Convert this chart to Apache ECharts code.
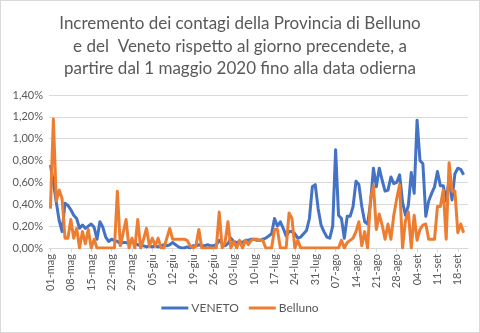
<!DOCTYPE html>
<html>
<head>
<meta charset="utf-8">
<script src="https://cdn.jsdelivr.net/npm/echarts@6/dist/echarts.min.js"></script>
<style>
  html, body { margin: 0; padding: 0; background: #fff; }
  #frame { width: 480px; height: 333px; box-sizing: border-box; border: 1px solid #d9d9d9; position: relative; }
  #chart { position: absolute; left: -1px; top: -1px; width: 480px; height: 333px; }
</style>
</head>
<body>
<div id="frame"><div id="chart"></div></div>
<script>
// Daily percentage increase of cases compared with the previous day (values in %)
const titleLines = [
  'Incremento dei contagi della Provincia di Belluno',
  'e del  Veneto rispetto al giorno precendete, a',
  'partire dal 1 maggio 2020 fino alla data odierna'
];

const monthNames = ['mag', 'giu', 'lug', 'ago', 'set'];
const monthDays = [31, 30, 31, 31, 30];
const dayCount = 144; // 1 May -> 21 Sep

const yTicks = [0, 0.2, 0.4, 0.6, 0.8, 1.0, 1.2, 1.4];

const veneto = [
  0.76, 0.60, 0.42, 0.25, 0.15, 0.41, 0.39, 0.35, 0.30, 0.27,
  0.18, 0.21, 0.18, 0.20, 0.22, 0.19, 0.08, 0.24, 0.19, 0.10,
  0.06, 0.08, 0.07, 0.06, 0.04, 0.05, 0.05, 0.04, 0.06, 0.04,
  0.03, 0.02, 0.02, 0.01, 0.02, 0.01, 0.02, 0.01, 0.02, 0.03,
  0.02, 0.03, 0.05, 0.03, 0.01, 0.00, 0.00, 0.01, 0.00, 0.02,
  0.02, 0.03, 0.02, 0.02, 0.03, 0.02, 0.02, 0.03, 0.07, 0.04,
  0.02, 0.04, 0.09, 0.06, 0.05, 0.06, 0.05, 0.07, 0.07, 0.08,
  0.08, 0.07, 0.07, 0.08, 0.09, 0.11, 0.13, 0.27, 0.20, 0.24,
  0.18, 0.11, 0.15, 0.15, 0.13, 0.09, 0.10, 0.13, 0.16, 0.27,
  0.56, 0.58, 0.36, 0.21, 0.15, 0.10, 0.09, 0.20, 0.90, 0.30,
  0.27, 0.09, 0.29, 0.29, 0.38, 0.61, 0.58, 0.38, 0.24, 0.22,
  0.41, 0.73, 0.56, 0.73, 0.62, 0.52, 0.53, 0.65, 0.59, 0.60,
  0.67, 0.42, 0.30, 0.39, 0.69, 0.50, 1.17, 0.80, 0.77, 0.29,
  0.43, 0.50, 0.56, 0.70, 0.57, 0.57, 0.43, 0.63, 0.44, 0.68,
  0.73, 0.72, 0.67, null
];

const belluno = [
  0.36, 1.18, 0.43, 0.53, 0.45, 0.09, 0.09, 0.26, 0.09, 0.18,
  0.00, 0.15, 0.04, 0.17, 0.00, 0.08, 0.00, 0.00, 0.00, 0.00,
  0.00, 0.00, 0.00, 0.52, 0.02, 0.14, 0.26, 0.00, 0.09, 0.00,
  0.26, 0.00, 0.08, 0.18, 0.02, 0.09, 0.02, 0.09, 0.00, 0.00,
  0.09, 0.18, 0.08, 0.08, 0.08, 0.08, 0.08, 0.07, 0.02, 0.00,
  0.02, 0.17, 0.00, 0.00, 0.00, 0.00, 0.00, 0.00, 0.33, 0.00,
  0.05, 0.24, 0.00, 0.06, 0.00, 0.07, 0.00, 0.07, 0.03, 0.07,
  0.08, 0.08, 0.07, 0.07, 0.00, 0.00, 0.00, 0.17, 0.17, 0.00,
  0.00, 0.00, 0.32, 0.27, 0.00, 0.07, 0.00, 0.00, 0.00, 0.00,
  0.00, 0.00, 0.00, 0.00, 0.00, 0.00, 0.00, 0.00, 0.00, 0.00,
  0.07, 0.00, 0.05, 0.07, 0.09, 0.15, 0.24, 0.02, 0.15, 0.00,
  0.45, 0.57, 0.17, 0.31, 0.21, 0.08, 0.22, 0.08, 0.30, 0.45,
  0.58, 0.00, 0.25, 0.33, 0.00, 0.30, 0.07, 0.17, 0.21, 0.22,
  0.08, 0.08, 0.08, 0.38, 0.38, 0.53, 0.08, 0.78, 0.52, 0.52,
  0.14, 0.22, 0.14, null
];

// Build "dd-mmm" day labels starting from 1 May
const days = [];
for (let m = 0; m < monthNames.length && days.length < dayCount; m++) {
  for (let d = 1; d <= monthDays[m] && days.length < dayCount; d++) {
    days.push((d < 10 ? '0' : '') + d + '-' + monthNames[m]);
  }
}

const textColor = '#595959';
const font = 'Lato, "Open Sans", sans-serif';

// One centred title block per line
const titles = titleLines.map((line, i) => ({
  text: line,
  left: 'center',
  top: 13 + i * 22.5,
  padding: 0,
  textStyle: {
    fontFamily: font,
    fontSize: 17,
    fontWeight: 'normal',
    color: textColor,
    lineHeight: 22
  }
}));

const chart = echarts.init(document.getElementById('chart'), null, { renderer: 'canvas' });
chart.setOption({
  animation: false,
  backgroundColor: 'transparent',
  title: titles,
  legend: {
    bottom: 14,
    left: 'center',
    icon: 'rect',
    itemWidth: 27,
    itemHeight: 3,
    itemGap: 10,
    textStyle: { fontFamily: font, fontSize: 12, color: textColor, padding: [0, 0, 0, -2] },
    data: ['VENETO', 'Belluno']
  },
  grid: { left: 49, right: 12, top: 95, bottom: 85, containLabel: false },
  xAxis: {
    type: 'category',
    data: days,
    boundaryGap: true,
    axisLine: { lineStyle: { color: '#d9d9d9', width: 1 } },
    axisTick: { show: true, interval: 6, alignWithLabel: true, length: 4, lineStyle: { color: '#d9d9d9' } },
    axisLabel: {
      interval: 6,
      rotate: 90,
      margin: 6,
      fontFamily: font,
      fontSize: 11,
      color: textColor
    },
    splitLine: { show: false }
  },
  yAxis: {
    type: 'value',
    min: yTicks[0],
    max: yTicks[yTicks.length - 1],
    interval: yTicks[1] - yTicks[0],
    axisLine: { show: false },
    axisTick: { show: false },
    axisLabel: {
      margin: 6,
      fontFamily: font,
      fontSize: 11,
      color: textColor,
      formatter: v => v.toFixed(2).replace('.', ',') + '%'
    },
    splitLine: { lineStyle: { color: '#d9d9d9', width: 1 } }
  },
  series: [
    {
      name: 'VENETO',
      type: 'line',
      data: veneto,
      symbol: 'none',
      color: '#4472C4',
      lineStyle: { width: 3, color: '#4472C4', join: 'round' }
    },
    {
      name: 'Belluno',
      type: 'line',
      data: belluno,
      symbol: 'none',
      color: '#ED7D31',
      lineStyle: { width: 3, color: '#ED7D31', join: 'round' }
    }
  ]
});
</script>
</body>
</html>
